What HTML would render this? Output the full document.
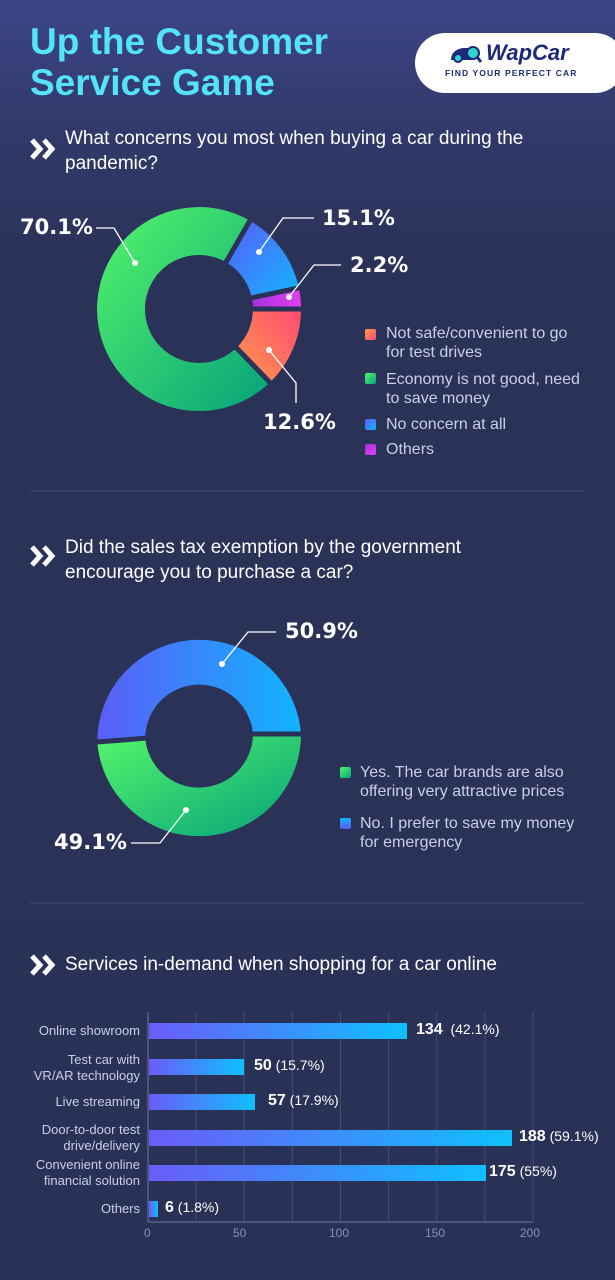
<!DOCTYPE html>
<html><head><meta charset="utf-8"><style>
*{margin:0;padding:0}
body{width:615px;height:1280px;overflow:hidden;background:linear-gradient(180deg,#3c4687 0px,#323a6c 120px,#2b3258 260px,#2a3157 1280px);font-family:"Liberation Sans",sans-serif;position:relative}
.t{position:absolute;white-space:nowrap}
.title{left:30px;color:#55e3f8;font-weight:bold;font-size:37px;line-height:41px;top:21px}
.q{color:#fff;font-size:19px;line-height:25px;left:65px}
.lg{color:#c9cfe8;font-size:16px;line-height:19px}
.sq{position:absolute;width:11px;height:11px;border-radius:2px}
.pl{font-family:"DejaVu Sans",sans-serif;font-weight:bold;font-size:21px;color:#fff}
.bl{color:#c9cfe8;font-size:13px;line-height:16px;text-align:right;right:475px}
.v{color:#fff;font-size:14px}
.v b{font-size:16px}
.ax{color:#8a91b4;font-size:12px}
</style></head><body>
<div class="t title">Up the Customer<br>Service Game</div>
<div class="t" style="left:415px;top:33px;width:210px;height:60px;background:#fff;border-radius:30px"></div>
<svg class="t" style="left:449px;top:44px" width="34" height="20"><path d="M2 16 Q2 6 14 4 L22 4 L24 16 Z" fill="#1c2a7a"/><circle cx="9" cy="14" r="4" fill="#2fd3d0" stroke="#1c2a7a" stroke-width="2"/><circle cx="24" cy="9" r="6" fill="#2fd3d0" stroke="#1c2a7a" stroke-width="2"/><line x1="28" y1="13" x2="32" y2="18" stroke="#1c2a7a" stroke-width="3"/></svg>
<div class="t" style="left:486px;top:40px;font-size:22px;font-weight:bold;font-style:italic;color:#1c2a7a">WapCar</div>
<div class="t" style="left:445px;top:68px;font-size:8.5px;font-weight:bold;color:#1c2a7a;letter-spacing:1.1px">FIND YOUR PERFECT CAR</div>

<svg class="t" style="left:30px;top:138px" width="30" height="22"><path d="M2 2 L10 11 L2 20 M14 2 L22 11 L14 20" stroke="#fff" stroke-width="5" fill="none"/></svg>
<div class="t q" style="top:126px">What concerns you most when buying a car during the<br>pandemic?</div>

<svg class="t" style="left:0;top:0" width="615" height="1280">
<defs>
<linearGradient id="gG" x1="0" y1="0" x2="1" y2="1"><stop offset="0" stop-color="#55f56a"/><stop offset="1" stop-color="#05a27a"/></linearGradient>
<linearGradient id="gB" x1="0" y1="0" x2="1" y2="1"><stop offset="0" stop-color="#5a5cf8"/><stop offset="1" stop-color="#12b6ff"/></linearGradient>
<linearGradient id="gP" x1="0" y1="0" x2="1" y2="0"><stop offset="0" stop-color="#a530e0"/><stop offset="1" stop-color="#e23ff0"/></linearGradient>
<linearGradient id="gO" x1="0" y1="1" x2="1" y2="0"><stop offset="0" stop-color="#ff9a4a"/><stop offset="1" stop-color="#ff4a72"/></linearGradient>
<linearGradient id="gB2" x1="0" y1="0" x2="1" y2="0"><stop offset="0" stop-color="#5b5ef7"/><stop offset="1" stop-color="#10b4ff"/></linearGradient>
<linearGradient id="bar" x1="0" y1="0" x2="1" y2="0"><stop offset="0" stop-color="#6a5cf8"/><stop offset="1" stop-color="#0fc0ff"/></linearGradient>
</defs>
<path d="M250 220.7 A102 102 0 0 1 298.8 287.8 L251.8 297.8 A54 54 0 0 0 226 262.2Z" fill="url(#gB)"/>
<path d="M298.8 287.8 A102 102 0 0 1 301 309 L253 309 A54 54 0 0 0 251.8 297.8Z" fill="url(#gP)"/>
<path d="M301 309 A102 102 0 0 1 269.9 382.4 L236.5 347.8 A54 54 0 0 0 253 309Z" fill="url(#gO)"/>
<path d="M269.9 382.4 A102 102 0 1 1 250 220.7 L226 262.2 A54 54 0 1 0 236.5 347.8Z" fill="url(#gG)"/>
<g stroke="#2b3258" stroke-width="5"><line x1="199" y1="309" x2="252.5" y2="216.3"/><line x1="199" y1="309" x2="303.7" y2="286.8"/><line x1="199" y1="309" x2="306" y2="309"/><line x1="199" y1="309" x2="273.3" y2="386"/></g>
<g stroke="#fff" stroke-width="1.3" fill="none">
<polyline points="96,228 114,228 135,263"/><polyline points="259,252 283,218 314,218"/><polyline points="289,297 314,265 341,265"/><polyline points="269,350 296,383 296,403"/></g>
<g fill="#fff"><circle cx="135" cy="263" r="3"/><circle cx="259" cy="252" r="3"/><circle cx="289" cy="297" r="3"/><circle cx="269" cy="350" r="3"/></g>
<line x1="30" y1="491" x2="585" y2="491" stroke="#444c78" stroke-width="1"/>
<path d="M97.3 742 A102 102 0 0 1 301 734 L253 734 A54 54 0 0 0 145.2 738.2Z" fill="url(#gB2)"/>
<path d="M301 734 A102 102 0 0 1 97.3 742 L145.2 738.2 A54 54 0 0 0 253 734Z" fill="url(#gG)"/>
<g stroke="#2b3258" stroke-width="5"><line x1="199" y1="734" x2="306" y2="734"/><line x1="199" y1="734" x2="92.3" y2="742.4"/></g>
<g stroke="#fff" stroke-width="1.3" fill="none"><polyline points="222,664 248,632 276,632"/><polyline points="131,843 160,843 186,810"/></g>
<g fill="#fff"><circle cx="222" cy="664" r="3"/><circle cx="186" cy="810" r="3"/></g>
<line x1="30" y1="903" x2="585" y2="903" stroke="#444c78" stroke-width="1"/>
<g stroke="#454c70" stroke-width="1">
<line x1="196.1" y1="1012" x2="196.1" y2="1222"/><line x1="244.2" y1="1012" x2="244.2" y2="1222"/><line x1="292.4" y1="1012" x2="292.4" y2="1222"/><line x1="340.5" y1="1012" x2="340.5" y2="1222"/><line x1="388.6" y1="1012" x2="388.6" y2="1222"/><line x1="436.7" y1="1012" x2="436.7" y2="1222"/><line x1="484.9" y1="1012" x2="484.9" y2="1222"/><line x1="533" y1="1012" x2="533" y2="1222"/>
</g>
<g stroke="#5a6188" stroke-width="1.5"><line x1="148" y1="1012" x2="148" y2="1222"/><line x1="148" y1="1222" x2="533" y2="1222"/></g>
<rect x="149" y="1023" width="258" height="16" fill="url(#bar)"/>
<rect x="149" y="1059" width="95" height="16" fill="url(#bar)"/>
<rect x="149" y="1094" width="106" height="16" fill="url(#bar)"/>
<rect x="149" y="1130" width="363" height="16" fill="url(#bar)"/>
<rect x="149" y="1165" width="337" height="16" fill="url(#bar)"/>
<rect x="149" y="1201" width="9" height="16" fill="url(#bar)"/>
</svg>

<div class="t pl" style="left:20px;top:215px">70.1%</div>
<div class="t pl" style="left:322px;top:206px">15.1%</div>
<div class="t pl" style="left:350px;top:253px">2.2%</div>
<div class="t pl" style="left:263px;top:410px">12.6%</div>
<div class="t pl" style="left:285px;top:619px">50.9%</div>
<div class="t pl" style="left:54px;top:830px">49.1%</div>

<div class="sq" style="left:365px;top:329px;background:linear-gradient(135deg,#ff9a4a,#ff4a72)"></div>
<div class="t lg" style="left:386px;top:324px">Not safe/convenient to go<br>for test drives</div>
<div class="sq" style="left:365px;top:373px;background:linear-gradient(135deg,#55f56a,#05a27a)"></div>
<div class="t lg" style="left:386px;top:370px">Economy is not good, need<br>to save money</div>
<div class="sq" style="left:365px;top:419px;background:linear-gradient(135deg,#5a5cf8,#12b6ff)"></div>
<div class="t lg" style="left:386px;top:415px">No concern at all</div>
<div class="sq" style="left:365px;top:444px;background:linear-gradient(135deg,#a530e0,#e23ff0)"></div>
<div class="t lg" style="left:386px;top:440px">Others</div>

<svg class="t" style="left:30px;top:545px" width="30" height="22"><path d="M2 2 L10 11 L2 20 M14 2 L22 11 L14 20" stroke="#fff" stroke-width="5" fill="none"/></svg>
<div class="t q" style="top:535px">Did the sales tax exemption by the government<br>encourage you to purchase a car?</div>

<div class="sq" style="left:340px;top:767px;background:linear-gradient(135deg,#55f56a,#05a27a)"></div>
<div class="t lg" style="left:360px;top:763px">Yes. The car brands are also<br>offering very attractive prices</div>
<div class="sq" style="left:340px;top:818px;background:linear-gradient(0deg,#5a5cf8,#12b6ff)"></div>
<div class="t lg" style="left:360px;top:814px">No. I prefer to save my money<br>for emergency</div>

<svg class="t" style="left:30px;top:954px" width="30" height="22"><path d="M2 2 L10 11 L2 20 M14 2 L22 11 L14 20" stroke="#fff" stroke-width="5" fill="none"/></svg>
<div class="t q" style="top:952px">Services in-demand when shopping for a car online</div>

<div class="t bl" style="top:1023px">Online showroom</div>
<div class="t bl" style="top:1052px">Test car with<br>VR/AR technology</div>
<div class="t bl" style="top:1094px">Live streaming</div>
<div class="t bl" style="top:1122px">Door-to-door test<br>drive/delivery</div>
<div class="t bl" style="top:1157px">Convenient online<br>financial solution</div>
<div class="t bl" style="top:1201px">Others</div>

<div class="t v" style="left:416px;top:1021px"><b>134</b>&nbsp; (42.1%)</div>
<div class="t v" style="left:254px;top:1057px"><b>50</b> (15.7%)</div>
<div class="t v" style="left:268px;top:1092px"><b>57</b> (17.9%)</div>
<div class="t v" style="left:519px;top:1128px"><b>188</b> (59.1%)</div>
<div class="t v" style="left:489px;top:1163px"><b>175</b> (55%)</div>
<div class="t v" style="left:165px;top:1199px"><b>6</b> (1.8%)</div>

<div class="t ax" style="left:144px;top:1226px">0</div>
<div class="t ax" style="left:233px;top:1226px">50</div>
<div class="t ax" style="left:329px;top:1226px">100</div>
<div class="t ax" style="left:425px;top:1226px">150</div>
<div class="t ax" style="left:520px;top:1226px">200</div>
</body></html>
